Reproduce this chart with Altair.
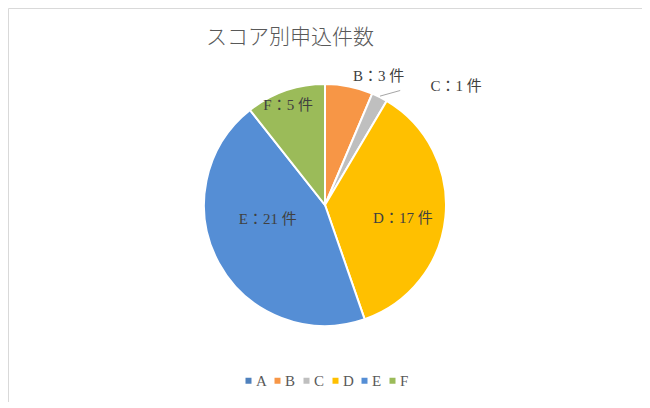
import altair as alt
import pandas as pd

# ---- data ----
categories = ["A", "B", "C", "D", "E", "F"]
counts = [0, 3, 1, 17, 21, 5]
colors = ["#4F81BD", "#F79646", "#BFBFBF", "#FFC000", "#558ED5", "#9BBB59"]
TITLE = "スコア別申込件数"

# ---- layout (label placement mimicking Excel best-fit) ----
W, H = 634, 394
R = 121
label_nudge_deg = {"B": 11, "C": 21, "D": 4, "E": 15, "F": -1}
label_radius = {"B": 140, "C": 177, "D": 79, "E": 59, "F": 107}
leader_end = (137, 33.3)  # radius, angle(deg) of leader end for slice C

total = sum(counts)
df = pd.DataFrame({"cat": categories, "count": counts, "idx": list(range(len(categories)))})


def ternary(d, default=0):
    expr = str(default)
    for k, v in reversed(list(d.items())):
        expr = f"(datum.cat === '{k}' ? {v} : {expr})"
    return expr


base = alt.Chart(df).transform_window(
    cum="sum(count)", sort=[alt.SortField("idx")], frame=[None, 0]
).transform_calculate(
    mid=f"datum.cum - datum.count / 2",
    ang=f"(datum.mid / {total}) * 2 * PI + ({ternary(label_nudge_deg)}) * PI / 180",
    lr=ternary(label_radius),
    label="datum.cat + '：' + datum.count + ' 件'",
)

pie = alt.Chart(df).mark_arc(outerRadius=R, stroke="white", strokeWidth=2).encode(
    theta=alt.Theta("count:Q", stack=True),
    color=alt.Color(
        "cat:N",
        scale=alt.Scale(domain=categories, range=colors),
        legend=alt.Legend(
            orient="none", legendX=233, legendY=365, direction="horizontal",
            title=None, symbolType="square", symbolSize=36, symbolStrokeWidth=0,
            labelFont="Liberation Serif", labelFontSize=15, labelColor="#595959",
            columnPadding=3, labelOffset=0, padding=0,
        ),
    ),
    order=alt.Order("idx:Q"),
)

labels = base.transform_filter("datum.count > 0").mark_text(
    font="Liberation Serif, Noto Sans CJK JP", fontSize=15, color="#404040",
    align="center", baseline="middle",
).encode(
    theta=alt.Theta("ang:Q", scale=None),
    radius=alt.Radius("lr:Q", scale=None),
    text="label:N",
)

leader = base.transform_filter("datum.cat === 'C'").transform_calculate(
    a0=f"(datum.mid / {total}) * 2 * PI",
    lx1=f"{W/2} + {R + 1} * sin(datum.a0)",
    ly1=f"{H/2} - {R + 1} * cos(datum.a0)",
    lx2=f"{W/2} + {leader_end[0]} * sin({leader_end[1]} * PI / 180)",
    ly2=f"{H/2} - {leader_end[0]} * cos({leader_end[1]} * PI / 180)",
).mark_rule(color="#A6A6A6", strokeWidth=1).encode(
    x=alt.X("lx1:Q", scale=None), y=alt.Y("ly1:Q", scale=None),
    x2="lx2:Q", y2="ly2:Q",
)

title = alt.Chart(pd.DataFrame({"t": [TITLE]})).mark_text(
    font="Noto Sans CJK JP", fontSize=21, fontWeight=300, color="#595959",
    align="center", baseline="middle",
).encode(x=alt.value(282), y=alt.value(30), text="t:N")

chart = alt.layer(pie, leader, labels, title).resolve_scale(
    theta="independent", radius="independent"
).properties(
    width=W, height=H, padding=0, autosize="none"
).configure_view(stroke="#D9D9D9", strokeWidth=1)

chart.save("out.html", embed_options={"renderer": "svg", "actions": False})
